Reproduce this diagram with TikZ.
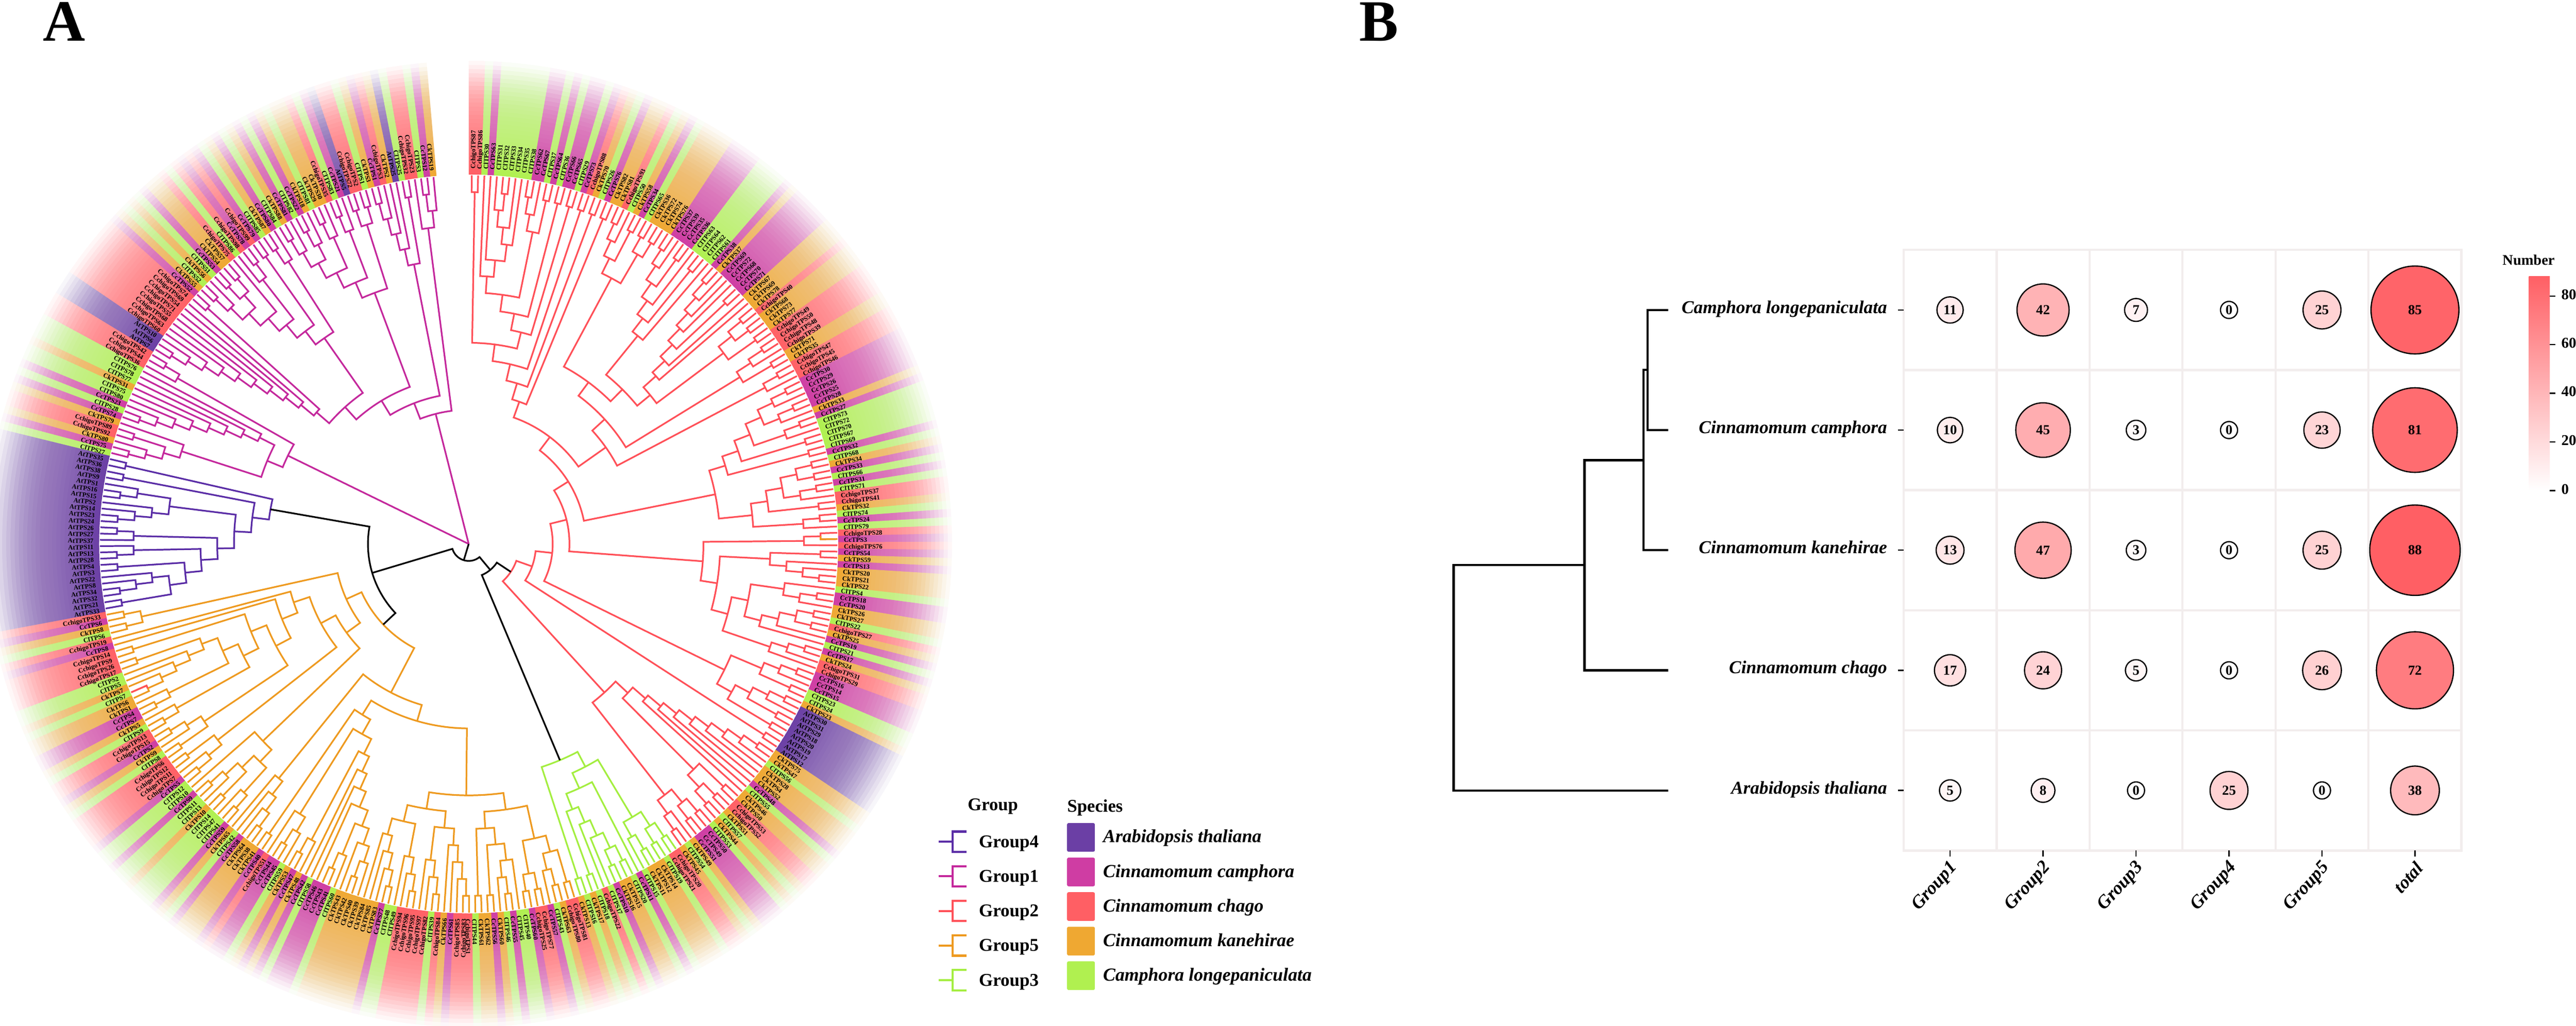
\documentclass[tikz,border=0pt]{standalone}
\usepackage{fontspec}
\setmainfont{Liberation Serif}
\definecolor{spa}{HTML}{6B3FA5}
\definecolor{spc}{HTML}{CF3DA3}
\definecolor{sph}{HTML}{FF5F64}
\definecolor{spk}{HTML}{EFA832}
\definecolor{spl}{HTML}{B0F050}
\definecolor{tg4}{HTML}{5A2DA6}
\definecolor{tg1}{HTML}{C4289C}
\definecolor{tg2}{HTML}{FF5058}
\definecolor{tg5}{HTML}{EE9A20}
\definecolor{tg3}{HTML}{A4EE40}
\definecolor{gridc}{HTML}{F2EDED}
\definecolor{cbase}{HTML}{FF5F64}
\tikzset{
 treeline/.style={line width=0.04cm,line join=miter},
 leaflabel/.style={inner sep=0pt,font=\fontsize{4.5}{5}\selectfont\bfseries},
 keyline/.style={line width=0.05cm},
 blackline/.style={line width=0.052cm,black,line cap=rect},
 ylab/.style={inner sep=0pt,anchor=mid east,font=\fontsize{12.4}{14}\selectfont\bfseries\itshape},
 xlab/.style={inner sep=0pt,anchor=east,rotate=48,font=\fontsize{12.6}{14}\selectfont\bfseries\itshape},
 leglab/.style={inner sep=0pt,anchor=base west,font=\fontsize{12.3}{14}\selectfont\bfseries},
 legital/.style={inner sep=0pt,anchor=base west,font=\fontsize{12.6}{14}\selectfont\bfseries\itshape},
 barlab/.style={inner sep=0pt,anchor=mid west,font=\fontsize{10.2}{12}\selectfont\bfseries},
 panel/.style={inner sep=0pt,anchor=base west,font=\fontsize{40}{44}\selectfont\bfseries}
}
\def\PP#1#2{({(#1)/100},{(2463-(#2))/100})}
\def\pfxa{AtTPS}\def\pfxc{CcTPS}\def\pfxh{CchigoTPS}\def\pfxk{CkTPS}\def\pfxl{ClTPS}
\def\parseLeaf#1#2\relax{\def\lfS{#1}\def\lfN{#2}}
\def\dang{0.975275}
\def\leaflist{h87,h86,l30,c63,l31,l32,l33,l34,l35,l38,c62,c67,l37,c64,l36,c66,c65,l29,c73,h88,k70,l26,c76,k82,k81,h93,l50,k58,c34,l65,k36,k72,k74,k76,c37,c39,c35,c36,l63,l64,l62,l61,c38,k37,c69,c72,c68,c70,c71,k67,k69,k78,h40,k68,k73,k77,h49,h50,h48,h39,k71,k35,h47,h45,h46,c30,c29,c26,c25,c28,k33,c27,l73,l72,l70,l67,l69,c32,l68,k34,c33,l66,c31,l71,h37,h41,k32,l74,c24,l79,h28,c3,h76,c54,k59,c13,k20,k21,k22,l4,c18,c20,k26,k27,l22,h27,k25,c19,l21,c17,k24,h31,h29,c16,c14,c15,l23,l24,k23,a30,a31,a29,a18,a20,a19,a17,a12,k75,k47,l56,k28,k4,k52,c48,l55,k46,k50,h53,h52,k51,l57,k44,l53,c50,c49,c51,k49,l54,k45,%
h20,h21,l19,k14,k12,k11,l15,c11,l20,k15,k16,c10,l17,h22,l18,k17,l16,k13,%
h81,h80,k63,l43,c57,h77,h25,c60,l40,l45,c55,l46,k60,c56,k62,k61,l44,h1,h83,h85,c61,k66,h84,l39,h82,h97,h95,h96,h94,l49,l48,c77,k83,k85,k84,k39,k40,k42,k43,l60,c41,c43,c46,l58,c42,k48,c47,k53,l59,c45,c44,h51,c40,k41,k38,k64,c58,l42,k65,c59,l41,l47,l14,k10,l13,l11,c9,l10,l12,c5,h7,h11,h12,h6,l8,k9,c2,h15,h13,l9,k5,c7,c4,k1,k6,l7,k7,l5,l2,h17,h26,h9,h14,c8,h19,l6,k8,c6,h33,%
a33,a21,a32,a34,a8,a22,a3,a4,a28,a13,a11,a37,a27,a26,a24,a23,a14,a2,a15,a16,a1,a9,a38,a36,a35,%
l27,c75,k80,h92,h89,k79,c74,l28,c23,l80,l75,k31,l77,l78,l76,h36,h44,h42,a7,a6,a10,h60,h63,h68,h55,h71,h54,h69,h74,c52,k55,l52,k56,l51,c53,k54,k57,h75,l86,h98,c78,h99,c79,l85,k87,c80,l84,k88,c81,l82,c22,k18,l81,k29,k30,h35,l83,c21,a5,h72,h2,l1,k3,c1,h3,k2,a25,l25,h32,h23,l3,c12,k19}
% ---- tree parser: x = next leaf, ) = join the top two, ( ignored
\newcount\tsp \newcount\tleaf
\global\tsp=0 \global\tleaf=0
\def\tcol{black}
\def\pushn#1#2#3{\global\advance\tsp 1
 \expandafter\xdef\csname SA\the\tsp\endcsname{#1}%
 \expandafter\xdef\csname SH\the\tsp\endcsname{#2}%
 \expandafter\xdef\csname SR\the\tsp\endcsname{#3}}
\def\doleaf{\pgfmathsetmacro\tLa{(\the\tleaf+0.5)*\dang}\global\advance\tleaf 1 \pushn{\tLa}{0}{8.85}}
\def\domerge{%
 \edef\tAb{\csname SA\the\tsp\endcsname}\edef\tHb{\csname SH\the\tsp\endcsname}\edef\tRb{\csname SR\the\tsp\endcsname}%
 \global\advance\tsp -1
 \edef\tAa{\csname SA\the\tsp\endcsname}\edef\tHa{\csname SH\the\tsp\endcsname}\edef\tRa{\csname SR\the\tsp\endcsname}%
 \global\advance\tsp -1
 \pgfmathtruncatemacro\tHn{1+max(\tHa,\tHb)}%
 \pgfmathsetmacro\tRn{8.85-0.402*\tHn}%
 \pgfmathsetmacro\tAn{(\tAa+\tAb)/2}%
 \pgfmathsetmacro\tSa{90-\tAa}\pgfmathsetmacro\tSb{90-\tAb}%
 \draw[treeline,draw=\tcol] (\tSa:\tRa) -- (\tSa:\tRn) arc[start angle=\tSa,end angle=\tSb,radius=\tRn cm] -- (\tSb:\tRb);
 \pushn{\tAn}{\tHn}{\tRn}}
\def\dostem#1{%
 \edef\tAa{\csname SA\the\tsp\endcsname}\edef\tRa{\csname SR\the\tsp\endcsname}%
 \global\advance\tsp -1
 \pgfmathsetmacro\tSa{90-\tAa}%
 \draw[treeline,draw=#1] (0,0) -- (\tSa:\tRa);}
\def\TP#1{\ifx#1;\let\tnext\relax\else\ifx#1x\doleaf\let\tnext\TP\else\ifx#1)\domerge\let\tnext\TP\else\let\tnext\TP\fi\fi\fi\tnext}
\begin{document}
\begin{tikzpicture}
\useasboundingbox (0,0) rectangle (61.83,24.63);
\fill[white] (0,0) rectangle (61.83,24.63);
% ================= Panel A
\begin{scope}
\clip (0,0) rectangle (61.83,24.63);
\begin{scope}[shift={(11.25,11.57)}]
 \foreach \s [count=\i from 0] in \leaflist {
  \expandafter\parseLeaf\s\relax
  \pgfmathsetmacro\wa{90-\i*\dang}
  \pgfmathsetmacro\wb{90-(\i+1)*\dang-(\i<363?0.08:0)}
  \fill[color=sp\lfS] (\wa:8.87) -- (\wa:11.8) arc[start angle=\wa,end angle=\wb,radius=11.8cm] -- (\wb:8.87) arc[start angle=\wb,end angle=\wa,radius=8.87cm] -- cycle;
 }
 \gdef\oldT{0}
 \foreach \rr/\tt in {8.9/.02,9.0/.05,9.1/.08,9.2/.11,9.3/.14,9.4/.17,9.5/.2,9.6/.22,9.7/.24,9.8/.26,9.9/.28,10.0/.3,10.1/.32,10.2/.34,10.3/.37,10.4/.4,10.5/.43,10.6/.47,10.7/.51,10.8/.56,10.9/.61,11.0/.67,11.1/.73,11.2/.79,11.3/.85,11.4/.91,11.5/.96,11.6/1} {
  \pgfmathsetmacro\opa{1-(1-\tt)/(1-\oldT)}
  \fill[white,opacity=\opa,even odd rule] (0,0) circle (\rr) (0,0) circle (11.85);
  \xdef\oldT{\tt}
 }
 % ----- red clade
 \def\tcol{tg2}
 \TP (xx)(x(x(((x(xx))x)x)))(((xx)x)(xx)))(xx))(xx)))(xx))(xx))(xx))
     ((((xx)x)(xx))((xx)(xx)))
     (((((xx)x)(xx))x)(xx))x)
     (((((((xx)x)x)x)(xx))x)x)
     (((xx)(xx))(xx))
     )))
     (((xx)x)(xx)))
     ((xx)x)))
     (((((((xx)x)((xx)x))((xx)x))(xx))(xx))
     (((((xx)(xx))((xx)x))(xx))((xx)x)))
     )
     ((xx)x)
     ((xx)(x(x(xx))))
     ((x((xx)x))((((xx)(xx))x)x))
     (((xx)x)x)
     ))))
     (((xx)x)(xx))
     ((((xx)x)(xx))(xx))
     ))
     (xx))
     (((((((xx)x)x)x)x)x)x)
     x)
     ((xx)((xx)(xx))))
     (((xx)(xx))(x(xx))))
     );
 % ----- green clade
 \def\tcol{tg3}
 \TP ((((xx)(xx))((xx)x))(x((((((xx)(xx))x)x)(xx))))(xx));
 \def\tcol{black}
 \TP );
 % ----- orange clade
 \def\tcol{tg5}
 \TP ((xx)((xx)x))((xx)(xx)))
     (((x((xx)x))(xx))(xx)))
     (((((xx)x)x)x)(((xx)x)x))
     (((((xx)x)x)((((xx)x)x)x)))
     )
     (((((x(xx))x)(x(xx)))x)x)x)
     (x(xx)))
     (((x(xx))x))
     (xx))
     )
     ((((xx)x)x)x))
     ((((xx)x)((xx)(x(xx))))x)
     (((xx)x)(xx))
     ((xx)(x(xx)))
     ((xx)x)
     ((xx)x)
     ((((xx)x)x)x)
     (xx))))
     (xx)))
     x)x)))
     ((xx)(xx))))
     ;
 % ----- purple clade
 \def\tcol{tg4}
 \TP (((((((((xx)(((xx)x)x))(xx))((xx)x))(x(xx)))(((((xx)x)x)((xx)x)))(xx))(xx));
 \def\tcol{black}
 \TP ));
 % ----- magenta clades
 \def\tcol{tg1}
 \TP ((((((xx)x)(xx))x)((((((((xx)x)x)x)x)x)x)x))(x(xx)));
 \TP (((((((((((((((xx)x)x)x)x)x)x)x)x)(xx))
     ((((((xx)x)((xx)(xx)))x)(x(xx)))(xx))((xx)x)))
     ((((((xx)x)((xx)x))((xx)x))((xx)x))((xx)(xx))))
     ((((xx)x)x)x)(xx)))
     (x((xx)x)));
 \dostem{tg1}
 \dostem{tg1}
 \dostem{black}
 % ----- two leaves drawn in a neighbour's colour
 \pgfmathsetmacro\spA{90-(91.5*\dang)}\pgfmathsetmacro\spB{90-(91*\dang)}
 \draw[treeline,draw=tg5] (\spA:8.85) -- (\spA:8.448) arc[start angle=\spA,end angle=\spB,radius=8.448cm];
 \pgfmathsetmacro\spA{90-(252.5*\dang)}\pgfmathsetmacro\spB{90-(252*\dang)}
 \draw[treeline,draw=tg2] (\spA:8.85) -- (\spA:8.448) arc[start angle=\spA,end angle=\spB,radius=8.448cm];
 % ----- labels
 \foreach \s [count=\i from 0] in \leaflist {
  \expandafter\parseLeaf\s\relax
  \pgfmathsetmacro\la{(\i+0.5)*\dang}
  \ifdim\la pt<180pt
   \pgfmathsetmacro\lr{90-\la}
   \node[leaflabel,anchor=mid west,rotate=\lr] (leaf\i) at (\lr:9.0) {\csname pfx\lfS\endcsname\lfN};
  \else
   \pgfmathsetmacro\lr{270-\la}
   \pgfmathsetmacro\lp{90-\la}
   \node[leaflabel,anchor=mid east,rotate=\lr] (leaf\i) at (\lp:9.0) {\csname pfx\lfS\endcsname\lfN};
  \fi
 }
\end{scope}
\end{scope}
\node[panel] (panelA) at \PP{102}{98} {A};
\node[panel] (panelB) at \PP{3262}{98} {B};
% ----- legends
\node[leglab,font=\fontsize{12.2}{14}\selectfont\bfseries] (legG) at \PP{2322}{1946} {Group};
\node[leglab,font=\fontsize{12.2}{14}\selectfont\bfseries] (legS) at \PP{2561}{1949} {Species};
\foreach \yy/\gn/\gc in {2021/Group4/tg4,2104/Group1/tg1,2187/Group2/tg2,2270/Group5/tg5,2353/Group3/tg3} {
 \draw[keyline,draw=\gc] \PP{2253}{\yy} -- \PP{2286}{\yy} \PP{2320}{\yy-24.5} -- \PP{2286}{\yy-24.5} -- \PP{2286}{\yy+24.5} -- \PP{2320}{\yy+24.5};
 \node[leglab] (k\gn) at \PP{2349}{\yy+14} {\gn};
}
\foreach \yy/\sn/\sc in {2011/Arabidopsis thaliana/spa,2094/Cinnamomum camphora/spc,2177/Cinnamomum chago/sph,2260/Cinnamomum kanehirae/spk,2343/Camphora longepaniculata/spl} {
 \fill[color=\sc,rounded corners=0.04cm] \PP{2561}{\yy-35} rectangle \PP{2628}{\yy+34};
 \node[legital] (s\sc) at \PP{2647}{\yy+12} {\sn};
}
% ================= Panel B
\foreach \m in {0,...,4} \foreach \k in {0,...,5} {
 \draw[gridc,line width=0.055cm] \PP{4569+223.17*\k}{600+288.4*\m} rectangle \PP{4569+223.17*(\k+1)}{600+288.4*(\m+1)};
}
\foreach \m/\vals in {0/{11,42,7,0,25,85},1/{10,45,3,0,23,81},2/{13,47,3,0,25,88},3/{17,24,5,0,26,72},4/{5,8,0,25,0,38}} {
 \foreach \v [count=\k from 0] in \vals {
  \pgfmathsetmacro\pct{\v/88*100}
  \pgfmathsetmacro\dd{(41+2*\v)/100}
  \node[circle,draw=black,line width=0.03cm,fill=cbase!\pct!white,minimum size=\dd cm,inner sep=0pt,font=\fontsize{9.4}{11}\selectfont\bfseries] (c\m-\k) at \PP{4680.6+223.17*\k}{744.2+288.4*\m} {\v};
 }
 \draw[line width=0.03cm] \PP{4555}{744.2+288.4*\m} -- \PP{4569}{744.2+288.4*\m};
}
\foreach \k/\gn in {0/Group1,1/Group2,2/Group3,3/Group4,4/Group5,5/total} {
 \draw[line width=0.03cm] \PP{4680.6+223.17*\k}{2042} -- \PP{4680.6+223.17*\k}{2056};
 \node[xlab] (x\k) at \PP{4692+223.17*\k}{2076} {\gn};
}
\foreach \m/\sn in {0/Camphora longepaniculata,1/Cinnamomum camphora,2/Cinnamomum kanehirae,3/Cinnamomum chago,4/Arabidopsis thaliana} {
 \node[ylab] (y\m) at \PP{4530}{744.2+288.4*\m} {\sn};
 \path \PP{4002}{744.2+288.4*\m} coordinate (tp\m);
}
\path (39.55,15.75) coordinate (jA);
\path (39.45,13.58) coordinate (jB);
\path (38.03,11.06) coordinate (jC);
\path (34.89,8.36) coordinate (jD);
\draw[blackline] (tp0) -| (jA) |- (tp1);
\draw[blackline] (jA) -| (jB) |- (tp2);
\draw[blackline] (jB) -| (jC) |- (tp3);
\draw[blackline] (jC) -| (jD) |- (tp4);
% ----- colour bar
\node[inner sep=0pt,anchor=base west,font=\fontsize{10}{12}\selectfont\bfseries] (numT) at \PP{6006}{636} {Number};
\shade[bottom color=white,top color=cbase] \PP{6070}{1178} rectangle \PP{6120}{663};
\foreach \yy/\vv in {711/80,827/60,944/40,1061/20,1178/0} {
 \draw[line width=0.03cm] \PP{6120}{\yy} -- \PP{6134}{\yy};
 \node[barlab] (b\vv) at \PP{6147}{\yy} {\vv};
}
\end{tikzpicture}
\end{document}
